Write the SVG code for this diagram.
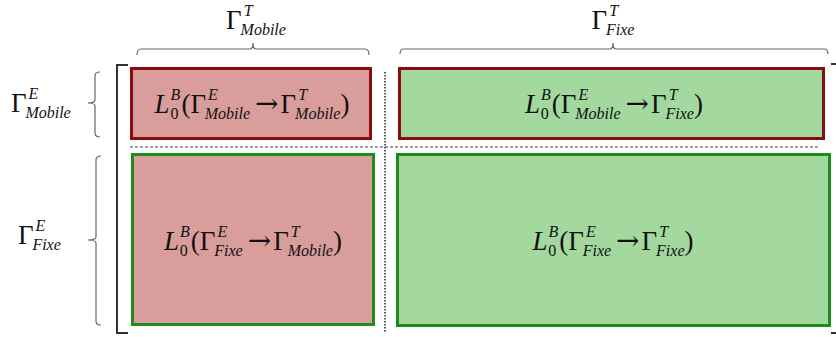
<svg xmlns="http://www.w3.org/2000/svg" width="836" height="337" viewBox="0 0 836 337">
<style>
.m{font-family:'Liberation Serif','DejaVu Serif',serif;font-size:27px;fill:#111}
.i{font-style:italic}
.s{font-size:16px}
.ar{font-family:'DejaVu Serif',serif;font-size:28px}
.red{fill:#d99d9c}
.grn{fill:#a3d89f}
.sr{stroke:#8a0c0c;stroke-width:3}
.sg{stroke:#1c8c1c;stroke-width:3}
.brace{fill:none;stroke:#666;stroke-width:1.2}
.brk{fill:none;stroke:#333;stroke-width:2}
</style>
<rect width="836" height="337" fill="#fff"/>
<g id="connectors">
  <path class="brk" d="M128,65 H117 V333 H128"/>
  <path class="brk" d="M831,64 H836 M831,333 H836"/>
  <line x1="130" y1="147" x2="818" y2="147" stroke="#444" stroke-width="1.2" stroke-dasharray="3,2"/>
  <line x1="385" y1="72" x2="385" y2="333" stroke="#333" stroke-width="1.6" stroke-dasharray="1.6,1.4"/>
  <path class="brace" d="M137,55 Q137,49 141,49 H250 Q253,49 253,43 Q253,49 256,49 H365 Q369,49 369,55"/>
  <path class="brace" d="M400,54 Q400,49 404,49 H610 Q613,49 613,43 Q613,49 616,49 H824 Q828,49 828,54"/>
  <path class="brace" d="M100,72 Q95,72 95,76 V100 Q95,103 88,103 Q95,103 95,106 V133 Q95,137 100,137"/>
  <path class="brace" d="M101,156 Q96,156 96,160 V237 Q96,240 88,240 Q96,240 96,243 V321 Q96,325 101,325"/>
</g>
<g id="label-T-mobile">
  <text class="m" x="256" y="29" text-anchor="middle">Γ<tspan class="i s" dx="2" dy="-13">T</tspan><tspan class="i s" dx="-12" dy="19">Mobile</tspan></text>
</g>
<g id="label-T-fixe">
  <text class="m" x="613" y="29" text-anchor="middle">Γ<tspan class="i s" dx="2" dy="-13">T</tspan><tspan class="i s" dx="-12" dy="19">Fixe</tspan></text>
</g>
<g id="label-E-mobile">
  <text class="m" x="11" y="112">Γ<tspan class="i s" dx="2" dy="-13">E</tspan><tspan class="i s" dx="-13" dy="19">Mobile</tspan></text>
</g>
<g id="label-E-fixe">
  <text class="m" x="18" y="244">Γ<tspan class="i s" dx="2" dy="-13">E</tspan><tspan class="i s" dx="-13" dy="19">Fixe</tspan></text>
</g>
<g id="box-mobile-mobile">
  <rect class="red sr" x="131.5" y="68.5" width="239" height="70"/>
  <text class="m" x="252" y="113" text-anchor="middle"><tspan class="i">L</tspan><tspan class="i s" dx="1" dy="-13">B</tspan><tspan class="s" dx="-10" dy="19">0</tspan><tspan dx="3" dy="-6">(Γ</tspan><tspan class="i s" dx="2" dy="-13">E</tspan><tspan class="i s" dx="-13" dy="19">Mobile</tspan><tspan class="ar" dx="5" dy="-6">→</tspan><tspan dx="2">Γ</tspan><tspan class="i s" dx="2" dy="-13">T</tspan><tspan class="i s" dx="-12" dy="19">Mobile</tspan><tspan dy="-6">)</tspan></text>
</g>
<g id="box-mobile-fixe">
  <rect class="grn sr" x="399.5" y="68.5" width="424" height="70"/>
  <text class="m" x="614" y="113" text-anchor="middle"><tspan class="i">L</tspan><tspan class="i s" dx="1" dy="-13">B</tspan><tspan class="s" dx="-10" dy="19">0</tspan><tspan dx="3" dy="-6">(Γ</tspan><tspan class="i s" dx="2" dy="-13">E</tspan><tspan class="i s" dx="-13" dy="19">Mobile</tspan><tspan class="ar" dx="5" dy="-6">→</tspan><tspan dx="2">Γ</tspan><tspan class="i s" dx="2" dy="-13">T</tspan><tspan class="i s" dx="-12" dy="19">Fixe</tspan><tspan dy="-6">)</tspan></text>
</g>
<g id="box-fixe-mobile">
  <rect class="red sg" x="132.5" y="154.5" width="241" height="170"/>
  <text class="m" x="253" y="250" text-anchor="middle"><tspan class="i">L</tspan><tspan class="i s" dx="1" dy="-13">B</tspan><tspan class="s" dx="-10" dy="19">0</tspan><tspan dx="3" dy="-6">(Γ</tspan><tspan class="i s" dx="2" dy="-13">E</tspan><tspan class="i s" dx="-13" dy="19">Fixe</tspan><tspan class="ar" dx="5" dy="-6">→</tspan><tspan dx="2">Γ</tspan><tspan class="i s" dx="2" dy="-13">T</tspan><tspan class="i s" dx="-12" dy="19">Mobile</tspan><tspan dy="-6">)</tspan></text>
</g>
<g id="box-fixe-fixe">
  <rect class="grn sg" x="397.5" y="154.5" width="432" height="171"/>
  <text class="m" x="613" y="250" text-anchor="middle"><tspan class="i">L</tspan><tspan class="i s" dx="1" dy="-13">B</tspan><tspan class="s" dx="-10" dy="19">0</tspan><tspan dx="3" dy="-6">(Γ</tspan><tspan class="i s" dx="2" dy="-13">E</tspan><tspan class="i s" dx="-13" dy="19">Fixe</tspan><tspan class="ar" dx="5" dy="-6">→</tspan><tspan dx="2">Γ</tspan><tspan class="i s" dx="2" dy="-13">T</tspan><tspan class="i s" dx="-12" dy="19">Fixe</tspan><tspan dy="-6">)</tspan></text>
</g>
</svg>
